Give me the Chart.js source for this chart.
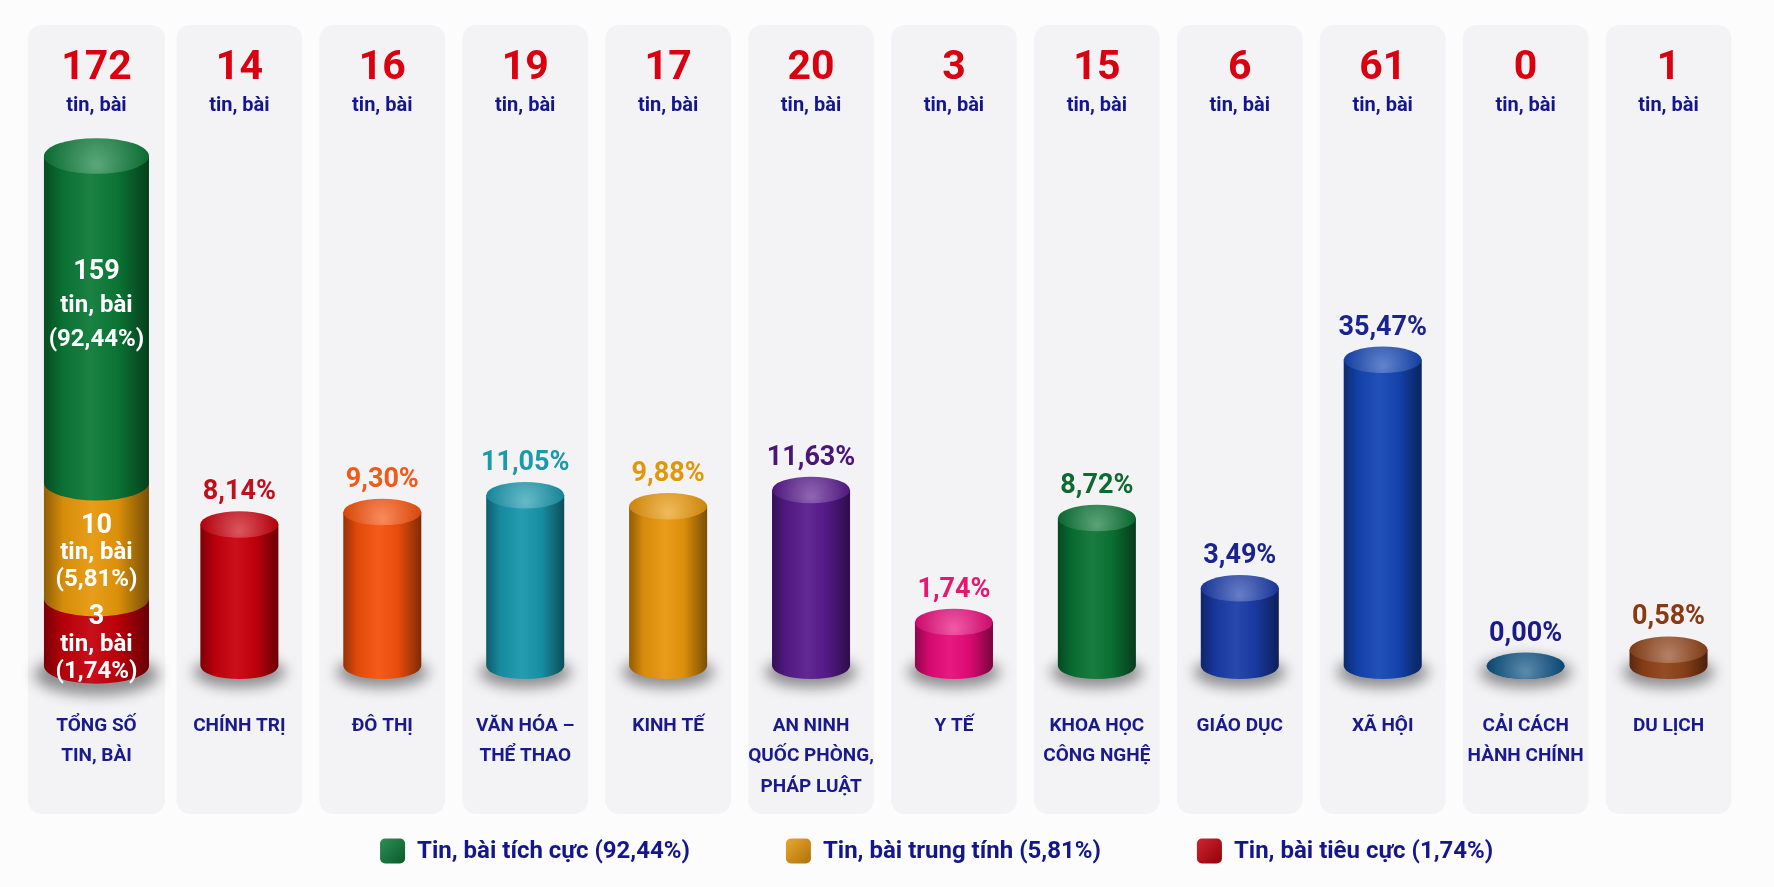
<!DOCTYPE html>
<html lang="vi">
<head>
<meta charset="utf-8">
<title>Tin, bài theo lĩnh vực</title>
<script src="https://cdn.jsdelivr.net/npm/chart.js@4.4.0/dist/chart.umd.min.js"></script>
<style>
  html, body { margin: 0; padding: 0; background: #fcfcfd; }
  #khung { position: relative; width: 1774px; height: 887px; }
</style>
</head>
<body>
<div id="khung"><canvas id="bieuDo"></canvas></div>
<script>
// ---- du lieu ----
const linhVuc = [['TỔNG SỐ', 'TIN, BÀI'], 'CHÍNH TRỊ', 'ĐÔ THỊ', ['VĂN HÓA –', 'THỂ THAO'], 'KINH TẾ',
  ['AN NINH', 'QUỐC PHÒNG,', 'PHÁP LUẬT'], 'Y TẾ', ['KHOA HỌC', 'CÔNG NGHỆ'], 'GIÁO DỤC', 'XÃ HỘI',
  ['CẢI CÁCH', 'HÀNH CHÍNH'], 'DU LỊCH'];
const soTin = [172, 14, 16, 19, 17, 20, 3, 15, 6, 61, 0, 1];
const tyLe = [null, 8.14, 9.30, 11.05, 9.88, 11.63, 1.74, 8.72, 3.49, 35.47, 0.00, 0.58];
// thu tu tu duoi len trong cot tong
const sacThai = ['Tin, bài tiêu cực', 'Tin, bài trung tính', 'Tin, bài tích cực'];
const soTheoSacThai = [3, 10, 159];
const tyLeSacThai = [1.74, 5.81, 92.44];

const mauSacThai = ['#c4000b', '#e6980b', '#0b7a37'];
const mauCot = [null, '#c8000c', '#f4500a', '#1896ac', '#e8960a', '#581a8c', '#e60a78', '#0a7434', '#1a3ca8', '#1446b4', '#0a4e80', '#8e4218'];
const mauNhan = [null, '#c0101c', '#f05a18', '#1a9aaa', '#e0980a', '#4a1478', '#e6186e', '#0e6a2e', '#1a2490', '#1a2490', '#1a1a8c', '#8a3a12'];

const phay = (v) => v.toFixed(2).replace('.', ',') + '%';
const FONT = 'Roboto, "Noto Sans", sans-serif';

// thang do log(1 + v/k) de cot nho van thay ro, nhu ban goc
class ThangLog1p extends Chart.LinearScale {
  static id = 'log1p';
  _t(v) { const k = this.options.k || 1; return Math.log(1 + Math.max(v, 0) / k); }
  getPixelForValue(v) {
    if (v === null || isNaN(v)) return NaN;
    const a = this._t(this.min), b = this._t(this.max);
    return this.getPixelForDecimal((this._t(v) - a) / (b - a));
  }
  getValueForPixel(px) {
    const k = this.options.k || 1;
    const a = this._t(this.min), b = this._t(this.max);
    return k * (Math.exp(a + this.getDecimalForPixel(px) * (b - a)) - 1);
  }
}
Chart.register(ThangLog1p);

function pha(hex, f) {
  const n = parseInt(hex.slice(1), 16);
  const c = [n >> 16, (n >> 8) & 255, n & 255];
  const t = f < 0 ? 0 : 255, p = Math.abs(f);
  return 'rgb(' + c.map(x => Math.round(x + (t - x) * p)).join(',') + ')';
}

function veBong(ctx, x, base, rx, ry) {
  ctx.save();
  ctx.filter = 'blur(7px)';
  ctx.fillStyle = 'rgba(0,0,0,0.42)';
  ctx.beginPath();
  ctx.ellipse(x, base + ry * 0.5, rx * 1.18, ry * 1.15, 0, 0, Math.PI * 2);
  ctx.fill();
  ctx.restore();
}

function veTru(ctx, x, top, base, w, mau, coNap) {
  const rx = w / 2, ry = rx * 0.34;
  const trai = x - rx, phai = x + rx;
  const g = ctx.createLinearGradient(trai, 0, phai, 0);
  g.addColorStop(0, pha(mau, -0.38));
  g.addColorStop(0.18, pha(mau, -0.08));
  g.addColorStop(0.45, pha(mau, 0.06));
  g.addColorStop(0.7, pha(mau, -0.05));
  g.addColorStop(1, pha(mau, -0.48));
  ctx.beginPath();
  ctx.moveTo(trai, top);
  ctx.lineTo(trai, base);
  ctx.ellipse(x, base, rx, ry, 0, Math.PI, 0, true);
  ctx.lineTo(phai, top);
  ctx.closePath();
  ctx.fillStyle = g;
  ctx.fill();
  if (coNap) {
    const g2 = ctx.createRadialGradient(x, top + ry * 0.5, 2, x, top, rx);
    g2.addColorStop(0, pha(mau, 0.32));
    g2.addColorStop(1, pha(mau, -0.12));
    ctx.beginPath();
    ctx.ellipse(x, top, rx, ry, 0, 0, Math.PI * 2);
    ctx.fillStyle = g2;
    ctx.fill();
  }
}

// lay tat ca cac doan cot (moi phan tu bar co gia tri)
function cacDoan(chart) {
  const ds = [];
  chart.data.datasets.forEach((d, k) => {
    chart.getDatasetMeta(k).data.forEach((el, i) => {
      const v = d.data[i];
      if (v === null || v === undefined) return;
      const p = el.getProps(['x', 'y', 'base', 'width'], true);
      ds.push({ d, i, v, ...p });
    });
  });
  return ds;
}

const truTron = {
  id: 'truTron',
  beforeDraw(chart) {
    const { ctx, scales: { x } } = chart;
    ctx.save();
    ctx.fillStyle = '#fcfcfd';
    ctx.fillRect(0, 0, chart.width, chart.height);
    const o = x.width / linhVuc.length;
    ctx.fillStyle = '#f3f3f6';
    linhVuc.forEach((_, i) => {
      const cx = x.getPixelForValue(i);
      const w = o * (i === 0 ? 0.96 : 0.88);
      ctx.beginPath();
      ctx.roundRect(cx - w / 2, 25, w, 789, 14);
      ctx.fill();
    });
    // so tin, bai tren dau moi cot
    ctx.textAlign = 'center';
    ctx.textBaseline = 'middle';
    soTin.forEach((n, i) => {
      const cx = x.getPixelForValue(i);
      ctx.fillStyle = '#d9000f';
      ctx.font = 'bold 41px ' + FONT;
      ctx.fillText(String(n), cx, 69);
      ctx.fillStyle = '#14168c';
      ctx.font = 'bold 20px ' + FONT;
      ctx.fillText('tin, bài', cx, 106);
    });
    ctx.restore();
  },
  beforeDatasetDraw() {
    return false;
  },
  afterDatasetsDraw(chart) {
    const ctx = chart.ctx;
    const day = chart.chartArea.bottom;
    const doan = cacDoan(chart).sort((a, b) => b.base - a.base);
    ctx.save();
    doan.forEach(s => {
      const mau = s.d.mauTru ? s.d.mauTru[s.i] : s.d.backgroundColor;
      if (Math.abs(s.base - day) < 1) veBong(ctx, s.x, s.base, s.width / 2, s.width / 2 * 0.34);
      veTru(ctx, s.x, s.y, s.base, s.width, mau, s.d.coNap);
    });
    ctx.textAlign = 'center';
    doan.forEach(s => {
      const ry = s.width / 2 * 0.34;
      if (s.d.chuGiai) {
        // chu trang trong tung doan cot tong
        const giua = Math.min((s.y + s.base) / 2 + ry * 0.7, s.y + 150);
        const lh = s.base - s.y > 200 ? 34 : 27;
        ctx.fillStyle = '#ffffff';
        ctx.textBaseline = 'middle';
        ctx.font = 'bold 27px ' + FONT;
        ctx.fillText(String(s.v), s.x, giua - lh);
        ctx.font = 'bold 24px ' + FONT;
        ctx.fillText('tin, bài', s.x, giua);
        ctx.fillText('(' + phay(s.d.tyLe) + ')', s.x, giua + lh);
      } else {
        ctx.fillStyle = mauNhan[s.i];
        ctx.textBaseline = 'alphabetic';
        ctx.font = 'bold 27px ' + FONT;
        ctx.fillText(phay(s.v), s.x, s.y - ry - 12);
      }
    });
    ctx.restore();
  }
};

const chuGiai = {
  id: 'chuGiai',
  afterDraw(chart) {
    const ctx = chart.ctx;
    const muc = chart.data.datasets.filter(d => d.chuGiai).reverse();
    ctx.save();
    ctx.font = 'bold 24px ' + FONT;
    const o = 25, khe = 12, cach = 96;
    const rong = muc.map(d => o + khe + ctx.measureText(d.label).width);
    const tong = rong.reduce((a, b) => a + b, 0) + cach * (muc.length - 1);
    let x = chart.width * 0.528 - tong / 2;
    const y = 851;
    ctx.textBaseline = 'middle';
    muc.forEach((d, i) => {
      const g = ctx.createLinearGradient(x, y - o / 2, x + o, y + o / 2);
      g.addColorStop(0, pha(d.backgroundColor, 0.15));
      g.addColorStop(1, pha(d.backgroundColor, -0.25));
      ctx.fillStyle = g;
      ctx.beginPath();
      ctx.roundRect(x, y - o / 2, o, o, 5);
      ctx.fill();
      ctx.fillStyle = '#14168c';
      ctx.fillText(d.label, x + o + khe, y + 1);
      x += rong[i] + cach;
    });
    ctx.restore();
  }
};

const chiCotTong = (v) => [v].concat(Array(linhVuc.length - 1).fill(null));

const datasets = sacThai.map((ten, k) => ({
  label: ten + ' (' + phay(tyLeSacThai[k]) + ')',
  data: chiCotTong(soTheoSacThai[k]),
  tyLe: tyLeSacThai[k],
  backgroundColor: mauSacThai[k],
  yAxisID: 'yTong',
  stack: 'cot',
  barPercentage: 0.735,
  categoryPercentage: 1,
  chuGiai: true,
  coNap: k === sacThai.length - 1
}));
datasets.push({
  label: 'Tỷ lệ theo lĩnh vực',
  data: tyLe,
  mauTru: mauCot,
  backgroundColor: '#1446b4',
  yAxisID: 'yTyLe',
  stack: 'cot',
  barPercentage: 0.546,
  categoryPercentage: 1,
  coNap: true
});

new Chart(document.getElementById('bieuDo'), {
  type: 'bar',
  data: { labels: linhVuc, datasets: datasets },
  options: {
    responsive: true,
    maintainAspectRatio: false,
    animation: false,
    layout: { padding: { top: 156, left: 25, right: 34, bottom: 40 } },
    scales: {
      x: {
        stacked: true,
        grid: { display: false, drawTicks: false },
        border: { display: false },
        ticks: {
          autoSkip: false,
          maxRotation: 0,
          padding: 45,
          color: '#1a1a8c',
          font: { family: FONT, size: 19, weight: 'bold', lineHeight: 1.6 }
        }
      },
      yTong: { type: 'log1p', k: 5, min: 0, max: soTin[0], stacked: true, display: false },
      yTyLe: { type: 'log1p', k: 5, min: 0, max: 158, stacked: true, display: false }
    },
    plugins: {
      legend: { display: false },
      tooltip: { enabled: false }
    }
  },
  plugins: [truTron, chuGiai]
});
</script>
</body>
</html>
